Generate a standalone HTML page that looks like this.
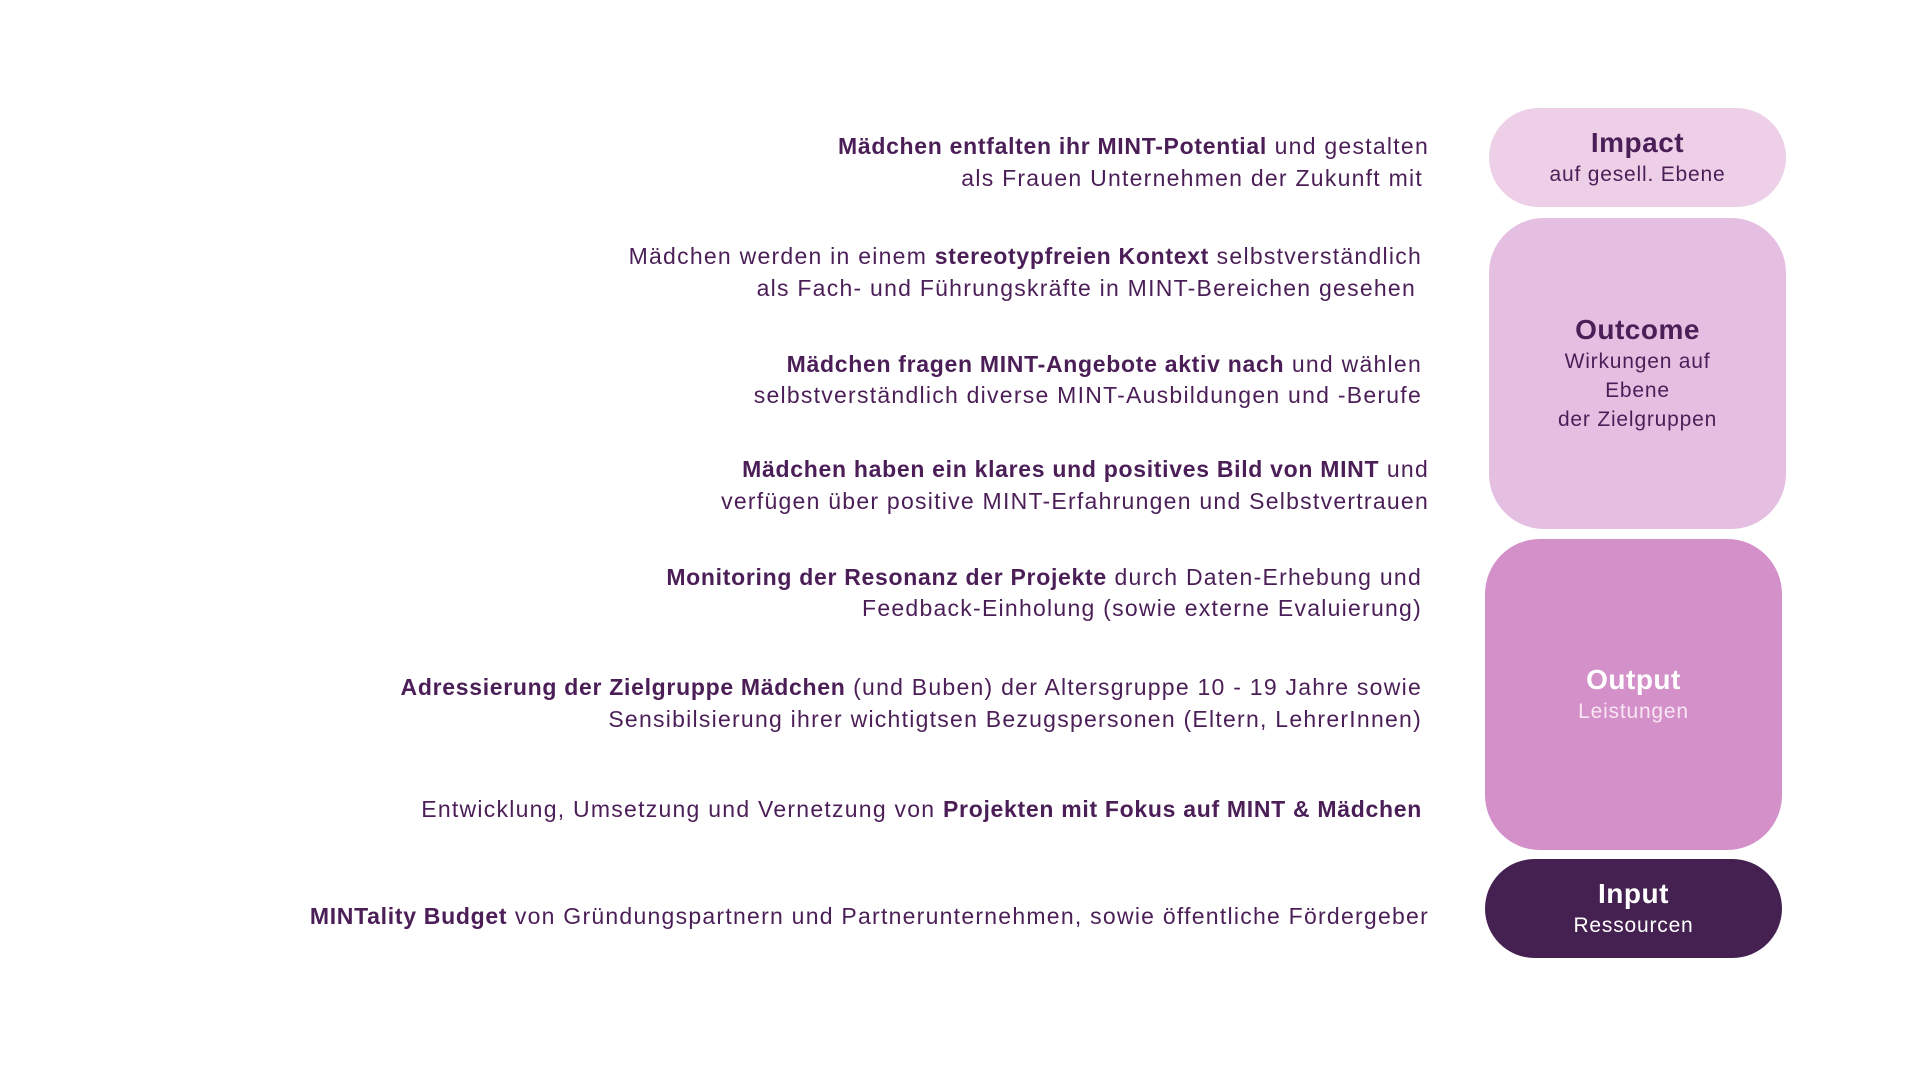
<!DOCTYPE html>
<html><head><meta charset="utf-8"><style>
html,body{margin:0;padding:0;background:#fff;}
body{width:1920px;height:1080px;position:relative;overflow:hidden;font-family:"Liberation Sans",sans-serif;color:#4b1e57;}
.l{position:absolute;white-space:nowrap;font-size:23px;letter-spacing:1.25px;line-height:30px;text-align:right;}
.l b{font-weight:bold;letter-spacing:0.7px;}
.box{position:absolute;left:1489px;width:297px;text-align:center;display:flex;flex-direction:column;justify-content:center;align-items:center;}
.t{font-weight:bold;font-size:28px;line-height:34px;letter-spacing:0.5px;}
.s{font-size:21px;line-height:29px;letter-spacing:0.8px;}
</style></head><body>
<div class="l" style="right:491px;top:131px"><b>Mädchen entfalten ihr MINT-Potential</b> und gestalten</div>
<div class="l" style="right:497px;top:163px">als Frauen Unternehmen der Zukunft mit</div>
<div class="l" style="right:498px;top:241px">Mädchen werden in einem <b>stereotypfreien Kontext</b> selbstverständlich</div>
<div class="l" style="right:504px;top:273px">als Fach- und Führungskräfte in MINT-Bereichen gesehen</div>
<div class="l" style="right:498px;top:349px"><b>Mädchen fragen MINT-Angebote aktiv nach</b> und wählen</div>
<div class="l" style="right:498px;top:380px">selbstverständlich diverse MINT-Ausbildungen und -Berufe</div>
<div class="l" style="right:491px;top:454px"><b>Mädchen haben ein klares und positives Bild von MINT</b> und</div>
<div class="l" style="right:491px;top:486px">verfügen über positive MINT-Erfahrungen und Selbstvertrauen</div>
<div class="l" style="right:498px;top:562px"><b>Monitoring der Resonanz der Projekte</b> durch Daten-Erhebung und</div>
<div class="l" style="right:498px;top:593px">Feedback-Einholung (sowie externe Evaluierung)</div>
<div class="l" style="right:498px;top:672px"><b>Adressierung der Zielgruppe Mädchen</b> (und Buben) der Altersgruppe 10 - 19 Jahre sowie</div>
<div class="l" style="right:498px;top:704px">Sensibilsierung ihrer wichtigtsen Bezugspersonen (Eltern, LehrerInnen)</div>
<div class="l" style="right:498px;top:794px">Entwicklung, Umsetzung und Vernetzung von <b>Projekten mit Fokus auf MINT &amp; Mädchen</b></div>
<div class="l" style="right:491px;top:901px"><b>MINTality Budget</b> von Gründungspartnern und Partnerunternehmen, sowie öffentliche Fördergeber</div>

<div class="box" style="top:108px;height:99px;border-radius:50px;background:#edd0e7;">
<div class="t">Impact</div><div class="s">auf gesell. Ebene</div></div>
<div class="box" style="top:218px;height:311px;border-radius:55px;background:#e5bfe2;">
<div class="t">Outcome</div><div class="s">Wirkungen auf<br>Ebene<br>der Zielgruppen</div></div>
<div class="box" style="left:1485px;top:539px;height:311px;border-radius:55px;background:#d490c9;color:#fff;">
<div class="t">Output</div><div class="s" style="color:#f8e6f4">Leistungen</div></div>
<div class="box" style="left:1485px;top:859px;height:99px;border-radius:50px;background:#452152;color:#fff;">
<div class="t">Input</div><div class="s">Ressourcen</div></div>
</body></html>
